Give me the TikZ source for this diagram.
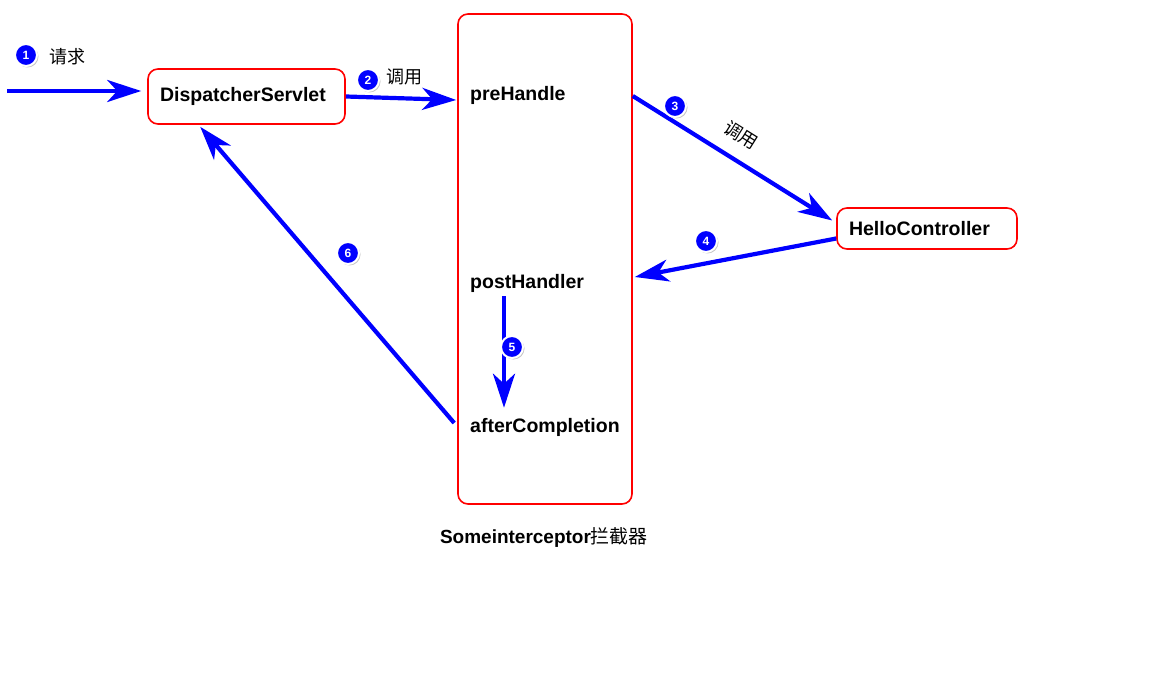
\documentclass[tikz,border=0pt]{standalone}
\usepackage{fontspec}
\setmainfont{Liberation Sans}
\newfontfamily\cjk{Noto Sans CJK SC}
\usetikzlibrary{calc}
\usetikzlibrary{arrows.meta,shadows}

\tikzset{
  box/.style={draw=red, line width=1.6pt, rounded corners=10pt, fill=white, inner ysep=0pt, font=\bfseries\fontsize{19.5}{19.5}\selectfont},
  call/.style={blue, line width=4.2pt, -{Stealth[length=34pt,width=22pt,inset=10pt]}},
  badge/.style={circle, fill=blue, draw=white, line width=2pt, text=white, inner sep=0pt, minimum size=22pt,
    font=\bfseries\fontsize{12}{12}\selectfont, drop shadow={shadow xshift=1.5pt, shadow yshift=-1.5pt, opacity=0.45}},
  method/.style={anchor=west, inner sep=0pt, font=\bfseries\fontsize{19.5}{19.5}\selectfont},
  word/.style={font=\cjk\fontsize{18}{18}\selectfont}
}

\begin{document}
\begin{tikzpicture}[x=1pt,y=-1pt]
\useasboundingbox (0,0) rectangle (1173,679);

\node[box, text width=173pt, inner xsep=12pt, minimum height=55pt] (dispatcher) at (246.5,96.5) {DispatcherServlet};	% Dispatcher
\node[box, text width=156pt, inner xsep=12pt, minimum height=41pt] (hello) at (927,228.5) {HelloController};		% Controller
\node[box, inner sep=0pt, minimum width=174pt, minimum height=490pt] (sbox) at (545,259) {};				% Interceptor
\node[anchor=base, font=\bfseries\fontsize{19}{19}\selectfont] (caption) at (544,543) {Someinterceptor{\mdseries\cjk 拦截器}};

\node[method] (preh) at (470,95) {preHandle};				% Methoden
\node[method] (posth) at (470,283) {postHandler};
\node[method] (afterc) at (470,427) {afterCompletion};

\coordinate (src) at (7,91);						% Quelle
\draw[call] (src) -- (src -| dispatcher.west) [shorten >=6pt];			% 1 Anfrage
\draw[call] (dispatcher.east) -- ($(sbox.west |- preh)+(-1,5)$);		% 2
\draw[call] ($(sbox.east |- preh)+(0,1)$) -- ($(hello.west)+(-4,-8)$);	% 3
\draw[call] ($(hello.west)+(0,10)$) -- ($(sbox.east |- posth)+(2,-6)$);	% 4
\draw[call, shorten <=4pt, shorten >=10pt] ([xshift=34pt]posth.south west) -- ([xshift=34pt]afterc.north west);	% 5
\draw[call] ($(sbox.west |- afterc)+(-3,-4)$) -- ($(dispatcher.south west)+(53,2)$);	% 6

\node[badge] (b1) at (26,55) {1};		% Nummern
\node[badge] (b2) at (368,80) {2};
\node[badge] (b3) at (675,106) {3};
\node[badge] (b4) at (706,241) {4};
\node[badge] (b5) at (512,347) {5};
\node[badge] (b6) at (348,253) {6};

\node[word] (w1) at (67,57) {请求};		% Beschriftung
\node[word] (w2) at (404,77) {调用};
\node[word, rotate=-32] (w3) at (741,135) {调用};

\end{tikzpicture}
\end{document}
